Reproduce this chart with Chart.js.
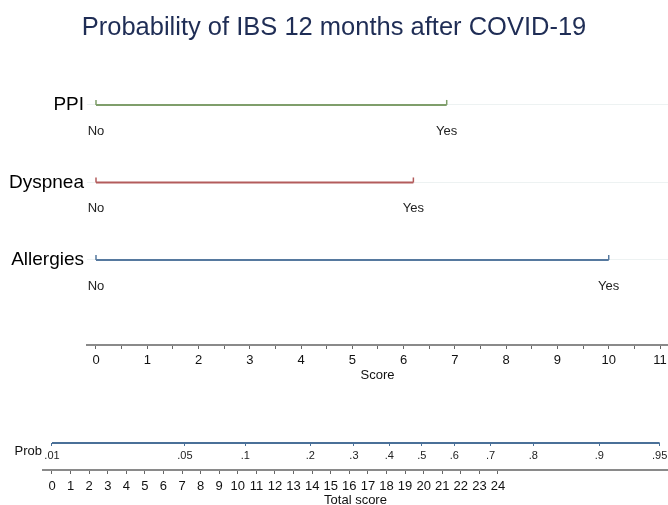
<!DOCTYPE html>
<html>
<head>
<meta charset="utf-8">
<script src="https://cdn.jsdelivr.net/npm/chart.js@4"></script>
<style>
  html, body { margin: 0; padding: 0; background: #fff; }
  #wrap { position: relative; width: 668px; height: 505px; }
  #wrap canvas { position: absolute; left: 0; top: 0; }
</style>
</head>
<body>
<div id="wrap">
  <canvas id="top-chart" width="668" height="505"></canvas>
  <canvas id="bottom-chart" width="668" height="505"></canvas>
</div>
<script>
// --- DATA ---
const variables = ['PPI', 'Dyspnea', 'Allergies'];
const rowY = [3, 2, 1];
const levelNames = ['No', 'Yes'];
const yesScores = [6.84, 6.19, 10];
const rowColors = ['#7f9e6b', '#b35c5c', '#56799f'];

const scoreTicks = [0, 1, 2, 3, 4, 5, 6, 7, 8, 9, 10, 11];
const totalTicks = [0, 1, 2, 3, 4, 5, 6, 7, 8, 9, 10, 11, 12, 13, 14, 15, 16, 17, 18, 19, 20, 21, 22, 23, 24];

const probLabels = ['.01', '.05', '.1', '.2', '.3', '.4', '.5', '.6', '.7', '.8', '.9', '.95'];
const probScores = [0, 7.15, 10.4, 13.9, 16.25, 18.15, 19.9, 21.65, 23.6, 25.9, 29.45, 32.7];
const probRowY = 0.54;

Chart.defaults.font.family = "'Liberation Sans', Arial, sans-serif";
Chart.defaults.color = '#111';

// half step ticks on the score axis, labels only on whole points
const scoreHalfTicks = [];
scoreTicks.forEach((v, i) => {
    scoreHalfTicks.push(v);
    if (i < scoreTicks.length - 1) scoreHalfTicks.push(v + 0.5);
});

// let edge labels overflow instead of shrinking the plot
const noEdgePadding = s => {
    s.paddingLeft = 0;
    s.paddingRight = 0;
};

// short upward marks at the ends of each variable line + No/Yes labels
const endMarks = {
    id: 'endMarks',
    afterDatasetsDraw(chart) {
        const ctx = chart.ctx;
        ctx.save();
        chart.data.datasets.forEach((ds, i) => {
            const meta = chart.getDatasetMeta(i);
            meta.data.forEach((pt, j) => {
                ctx.strokeStyle = ds.borderColor;
                ctx.lineWidth = 1.5;
                ctx.beginPath();
                ctx.moveTo(pt.x, pt.y);
                ctx.lineTo(pt.x, pt.y - 5);
                ctx.stroke();
                ctx.fillStyle = '#222';
                ctx.font = "13px 'Liberation Sans', Arial, sans-serif";
                ctx.textAlign = 'center';
                ctx.textBaseline = 'middle';
                ctx.fillText(levelNames[j], pt.x, pt.y + 26);
            });
        });
        ctx.restore();
    }
};

new Chart(document.getElementById('top-chart'), {
    type: 'line',
    data: {
        datasets: variables.map((name, i) => ({
            label: name,
            data: [{ x: 0, y: rowY[i] }, { x: yesScores[i], y: rowY[i] }],
            borderColor: rowColors[i],
            borderWidth: 2,
            pointRadius: 0,
            fill: false
        }))
    },
    options: {
        responsive: false,
        animation: false,
        layout: { padding: { bottom: 122 } },
        plugins: {
            legend: { display: false },
            tooltip: { enabled: false },
            title: {
                display: true,
                text: 'Probability of IBS 12 months after COVID-19',
                color: '#1f2d55',
                font: { size: 25.5, weight: 'normal' },
                padding: { top: 13, bottom: 0.9 }
            }
        },
        scales: {
            x: {
                type: 'linear',
                min: -0.1755,
                max: 11.156,
                afterBuildTicks: s => { s.ticks = scoreHalfTicks.map(v => ({ value: v })); },
                ticks: {
                    callback: v => Number.isInteger(v) ? v : '',
                    color: '#111',
                    font: { size: 13 },
                    padding: 4,
                    maxRotation: 0,
                    autoSkip: false
                },
                grid: { drawOnChartArea: false, tickLength: 4, color: '#666' },
                border: { color: '#8a8a8a', width: 2 },
                title: { display: true, text: 'Score', color: '#111', font: { size: 13 }, padding: { top: 0, bottom: 0 } },
                afterFit: s => { s.height = 38; noEdgePadding(s); }
            },
            y: {
                type: 'linear',
                min: -0.097,
                max: 3.78,
                afterBuildTicks: s => { s.ticks = rowY.map(v => ({ value: v })); },
                ticks: {
                    callback: v => variables[rowY.indexOf(v)],
                    color: '#000',
                    font: { size: 19 },
                    padding: 3
                },
                grid: { color: '#edf2f2', drawTicks: false },
                border: { display: false },
                afterFit: s => { s.width = 87; s.paddingTop = 0; s.paddingBottom = 0; }
            }
        }
    },
    plugins: [endMarks]
});

new Chart(document.getElementById('bottom-chart'), {
    type: 'line',
    data: {
        datasets: [{
            label: 'Prob',
            data: [
                { x: probScores[0], y: probRowY },
                { x: probScores[probScores.length - 1], y: probRowY }
            ],
            borderColor: '#4a7098',
            borderWidth: 2,
            pointRadius: 0,
            fill: false
        }]
    },
    options: {
        responsive: false,
        animation: false,
        layout: { padding: { top: 420 } },
        plugins: {
            legend: { display: false },
            tooltip: { enabled: false }
        },
        scales: {
            x: {
                type: 'linear',
                min: -0.484,
                max: 33.15,
                afterBuildTicks: s => { s.ticks = totalTicks.map(v => ({ value: v })); },
                ticks: { color: '#111', font: { size: 13 }, padding: 5, maxRotation: 0, autoSkip: false },
                grid: { drawOnChartArea: false, tickLength: 4, color: '#666' },
                border: { color: '#8a8a8a', width: 2 },
                title: { display: true, text: 'Total score', color: '#111', font: { size: 13 }, padding: { top: 0, bottom: -3 } },
                afterFit: s => { s.height = 35; noEdgePadding(s); }
            },
            prob: {
                type: 'linear',
                axis: 'x',
                position: { y: probRowY },
                min: -0.484,
                max: 33.15,
                afterBuildTicks: s => { s.ticks = probScores.map(v => ({ value: v })); },
                ticks: {
                    callback: (v, i) => probLabels[i],
                    color: '#222',
                    font: { size: 11 },
                    padding: 3,
                    maxRotation: 0,
                    autoSkip: false
                },
                grid: { drawOnChartArea: false, tickLength: 3, color: '#4a7098' },
                border: { display: false },
                afterFit: noEdgePadding
            },
            y: {
                type: 'linear',
                min: 0,
                max: 1,
                afterBuildTicks: s => { s.ticks = [{ value: probRowY - 0.16 }]; },
                ticks: { callback: () => 'Prob', color: '#111', font: { size: 13 }, padding: 1 },
                grid: { display: false, drawTicks: false },
                border: { display: false },
                afterFit: s => { s.width = 43; s.paddingTop = 0; s.paddingBottom = 0; }
            }
        }
    }
});
</script>
</body>
</html>
